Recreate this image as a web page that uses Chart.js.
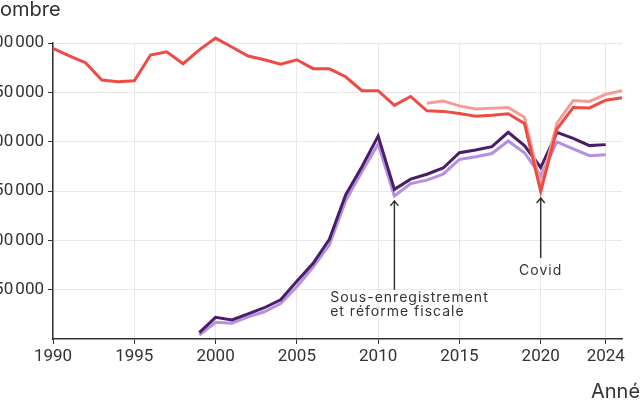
<!DOCTYPE html>
<html>
<head>
<meta charset="utf-8">
<script src="https://cdn.jsdelivr.net/npm/chart.js@4"></script>
<style>
  html, body { margin: 0; padding: 0; background: #fff; overflow: hidden; }
  #wrap { position: relative; width: 640px; height: 400px; overflow: hidden; }
  #chart { position: absolute; left: -20px; top: 0; }
</style>
</head>
<body>
<div id="wrap"><canvas id="chart" width="660" height="400"></canvas></div>
<script>
const years = [];
for (let y = 1990; y <= 2025; y++) years.push(y);

// mariages (tous jusqu'en 2012, puis de sexe différent)
const mariages = [294600, 287000, 280000, 262500, 260800, 261800, 287800, 291000, 279000, 293000,
  305000, 296000, 286800, 283000, 278600, 283000, 274000, 273800, 265800, 251600,
  251700, 236800, 245800, 231300, 230700, 228600, 225800, 226700, 228300, 218500,
  149500, 213000, 234600, 234200, 242000, 244500];
// mariages, tous couples (a partir de 2013)
const mariagesTous = [null, null, null, null, null, null, null, null, null, null,
  null, null, null, null, null, null, null, null, null, null,
  null, null, null, 238900, 241300, 236300, 233100, 233900, 234700, 224700,
  155500, 218800, 241800, 240800, 248000, 251600];
// pacs, tous couples
const pacs = [null, null, null, null, null, null, null, null, null, 6500,
  22000, 19400, 25500, 31700, 39800, 58500, 76800, 101000, 146000, 174600,
  205700, 151700, 162000, 167000, 173300, 188800, 191600, 195000, 209500, 196000,
  173800, 209500, 203400, 196000, 197000, null];
// pacs, couples de sexe different
const pacsDiff = [null, null, null, null, null, null, null, null, null, 4000,
  17000, 16000, 22500, 27600, 36000, 53000, 73000, 95500, 140000, 169500,
  197600, 145000, 157500, 161000, 167000, 182000, 184800, 188000, 200700, 188800,
  165500, 199700, 192600, 185800, 186800, null];

const xTicks = [1990, 1995, 2000, 2005, 2010, 2015, 2020, 2024];
const yTicks = [50000, 100000, 150000, 200000, 250000, 300000];

const notes = [
  { x: 2011, tip: 140000, base: 50000, lines: ['Sous-enregistrement', 'et réforme fiscale'], tx: 2007.05, ty: 37500, align: 'left' },
  { x: 2020, tip: 143000, base: 82000, lines: ['Covid'], tx: 2020, ty: 65000, align: 'center' }
];

const pts = vals => years.map((y, i) => ({ x: y, y: vals[i] }));
const fmt = v => String(v).replace(/\B(?=(\d{3})+(?!\d))/g, '\u202f');

const annotations = {
  id: 'annotations',
  afterDraw(chart) {
    const { ctx, scales: { x, y }, chartArea } = chart;
    ctx.save();
    ctx.strokeStyle = '#333';
    ctx.fillStyle = '#333';
    ctx.lineWidth = 1.5;
    notes.forEach(n => {
      const px = x.getPixelForValue(n.x);
      const top = y.getPixelForValue(n.tip);
      const bot = y.getPixelForValue(n.base);
      ctx.beginPath();
      ctx.moveTo(px, bot);
      ctx.lineTo(px, top);
      ctx.moveTo(px - 4, top + 5);
      ctx.lineTo(px, top);
      ctx.lineTo(px + 4, top + 5);
      ctx.stroke();
      ctx.font = '14px Inter';
      ctx.letterSpacing = '1px';
      ctx.textAlign = n.align;
      ctx.textBaseline = 'alphabetic';
      const tx = x.getPixelForValue(n.tx);
      const ty = y.getPixelForValue(n.ty);
      n.lines.forEach((t, i) => ctx.fillText(t, tx, ty + i * 14));
    });
    ctx.letterSpacing = '0px';
    ctx.font = '20px Inter';
    ctx.textAlign = 'left';
    ctx.fillText('Année', chartArea.right - 31, 398);
    ctx.restore();
  }
};

new Chart(document.getElementById('chart'), {
  type: 'line',
  data: {
    datasets: [
      { label: 'Mariages', data: pts(mariages), borderColor: '#ee4b45', borderWidth: 3 },
      { label: 'Mariages (tous)', data: pts(mariagesTous), borderColor: '#f59b98', borderWidth: 3 },
      { label: 'Pacs', data: pts(pacs), borderColor: '#4a1d68', borderWidth: 3 },
      { label: 'Pacs (sexe différent)', data: pts(pacsDiff), borderColor: '#b58fe2', borderWidth: 3 }
    ]
  },
  options: {
    responsive: false,
    animation: false,
    layout: { padding: { left: 5, right: 18, top: 0, bottom: 20 } },
    elements: { point: { radius: 0 }, line: { tension: 0 } },
    datasets: { line: { clip: false, spanGaps: false } },
    plugins: {
      legend: { display: false },
      tooltip: { enabled: false },
      title: {
        display: true,
        text: 'Nombre',
        align: 'start',
        color: '#333',
        font: { family: 'Inter', size: 20, weight: 'normal', lineHeight: 1 },
        padding: { top: 0, bottom: 23 }
      }
    },
    scales: {
      x: {
        type: 'linear',
        min: 1990,
        max: 2025,
        afterBuildTicks: s => { s.ticks = xTicks.map(v => ({ value: v })); },
        afterFit: s => { s.height = 41; s.paddingLeft = 0; s.paddingRight = 0; },
        ticks: { color: '#333', padding: 3, maxRotation: 0, autoSkip: false,
          font: { family: 'Roboto', size: 17 }, callback: v => String(v) },
        grid: { color: '#e8e8e8', tickColor: '#333', tickLength: 5 },
        border: { color: '#333', width: 1.5 }
      },
      y: {
        min: 0,
        max: 300000,
        afterBuildTicks: s => { s.ticks = yTicks.map(v => ({ value: v })); },
        afterFit: s => { s.width = 68; s.paddingTop = 0; s.paddingBottom = 0; },
        ticks: { color: '#333', padding: 4, font: { family: 'Roboto', size: 17 }, callback: v => fmt(v) },
        grid: { color: '#e8e8e8', tickColor: '#333', tickLength: 5 },
        border: { color: '#333', width: 1.5 }
      }
    }
  },
  plugins: [annotations]
});
</script>
</body>
</html>
